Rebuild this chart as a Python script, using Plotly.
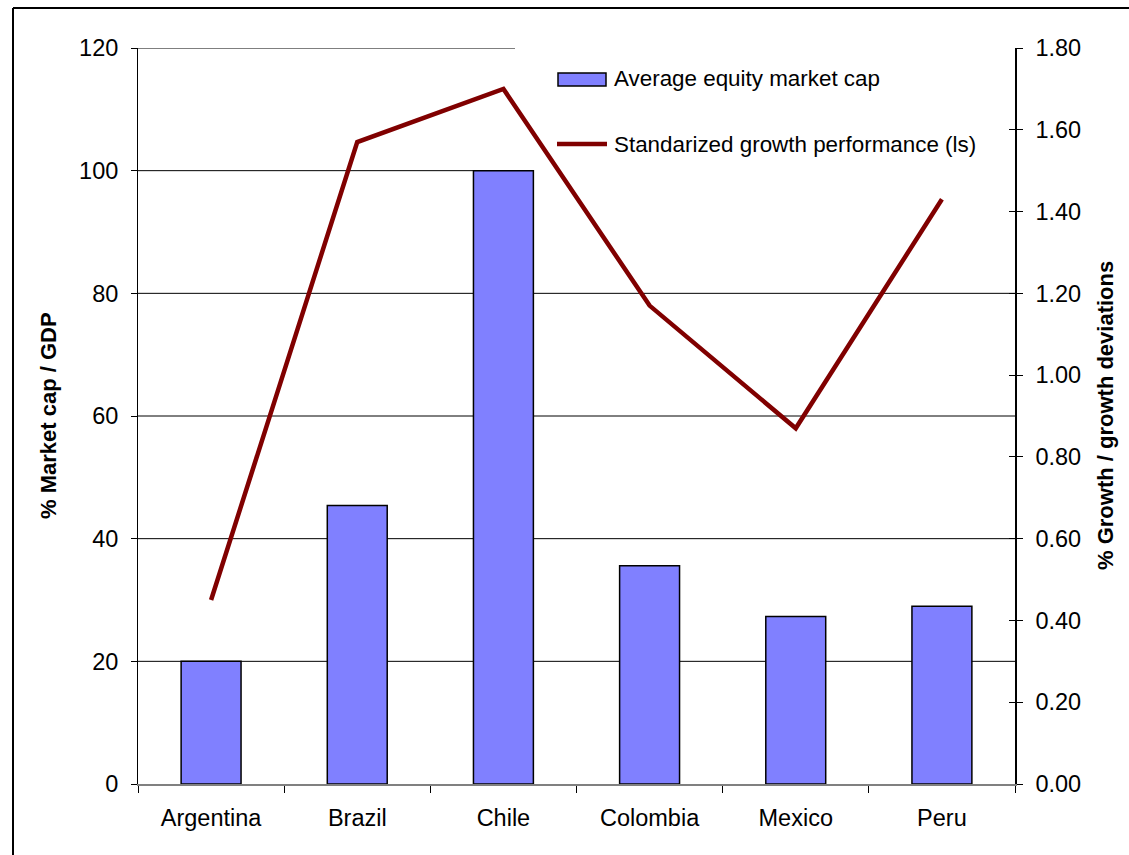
import plotly.graph_objects as go

# ---- data ----
countries = ["Argentina", "Brazil", "Chile", "Colombia", "Mexico", "Peru"]
market_cap = [20.0, 45.4, 100.0, 35.6, 27.3, 29.0]
growth_perf = [0.45, 1.57, 1.70, 1.17, 0.87, 1.43]
left_ticks = [20, 40, 60, 80, 100, 120]
bar_name = "Average equity market cap"
line_name = "Standarized growth performance (ls)"
left_title = "% Market cap / GDP"
right_title = "% Growth / growth deviations"

# ---- layout geometry ----
W, H = 1129, 855
L, R, T, B = 138, 1015, 48, 784
FONT = "Liberation Sans, Arial, sans-serif"
LEGEND_LEFT = 515  # gridlines hidden behind the legend box right of this pixel


def px(x):
    return (x - L) / (R - L)


def py(y):
    return (B - y) / (B - T)


fig = go.Figure()
fig.add_trace(go.Bar(
    x=countries, y=market_cap, name=bar_name, width=0.41,
    marker=dict(color="#8080FF", line=dict(color="#000000", width=1.5)),
    showlegend=False, yaxis="y",
))
fig.add_trace(go.Scatter(
    x=countries, y=growth_perf, name=line_name, mode="lines",
    line=dict(color="#800000", width=4.5),
    showlegend=False, yaxis="y2",
))
fig.add_trace(go.Scatter(x=[], y=[], yaxis="y3", showlegend=False, hoverinfo="skip"))

shapes = []
# gridlines (drawn below the traces; top two are partly hidden by the legend box)
for v in left_ticks:
    x1 = px(LEGEND_LEFT) if v >= 100 else 1
    shapes.append(dict(type="line", xref="paper", yref="y", layer="below",
                       x0=0, x1=x1, y0=v, y1=v,
                       line=dict(color="#000000", width=1)))
shapes += [
    # outer frame (left and top edges)
    dict(type="line", xref="paper", yref="paper",
         x0=px(13), x1=px(13), y0=py(870), y1=py(8),
         line=dict(color="#000000", width=2)),
    dict(type="line", xref="paper", yref="paper",
         x0=px(13), x1=px(1140), y0=py(8), y1=py(8),
         line=dict(color="#000000", width=2)),
    # legend symbols
    dict(type="rect", xref="paper", yref="paper",
         x0=px(558), x1=px(606), y0=py(86), y1=py(73),
         fillcolor="#8080FF", line=dict(color="#000000", width=1.5)),
    dict(type="line", xref="paper", yref="paper",
         x0=px(557), x1=px(607), y0=py(144), y1=py(144),
         line=dict(color="#800000", width=4.5)),
]

annotations = [
    dict(text=bar_name, xref="paper", yref="paper", x=px(612), y=py(78),
         xanchor="left", yanchor="middle", showarrow=False,
         font=dict(family=FONT, size=22.4, color="#000000")),
    dict(text=line_name, xref="paper", yref="paper", x=px(612), y=py(144),
         xanchor="left", yanchor="middle", showarrow=False,
         font=dict(family=FONT, size=22.4, color="#000000")),
    dict(text="<b>" + left_title + "</b>", xref="paper", yref="paper",
         x=px(48), y=py(416), xanchor="center", yanchor="middle",
         textangle=-90, showarrow=False,
         font=dict(family=FONT, size=22, color="#000000")),
    dict(text="<b>" + right_title + "</b>", xref="paper", yref="paper",
         x=px(1105), y=py(416), xanchor="center", yanchor="middle",
         textangle=-90, showarrow=False,
         font=dict(family=FONT, size=22, color="#000000")),
]

tickfont = dict(family=FONT, size=23.5, color="#000000")

fig.update_layout(
    width=W, height=H,
    margin=dict(l=L, r=W - R, t=T, b=H - B, pad=0),
    paper_bgcolor="#FFFFFF", plot_bgcolor="#FFFFFF",
    showlegend=False,
    shapes=shapes,
    annotations=annotations,
    xaxis=dict(
        type="category", range=[-0.5, 5.5],
        showline=True, linecolor="#808080", linewidth=2,
        ticks="outside", ticklen=7, tickcolor="#000000", tickwidth=1,
        tickson="boundaries", ticklabelstandoff=12,
        showgrid=False, tickfont=tickfont,
    ),
    yaxis=dict(
        range=[0, 120], dtick=20, tick0=0,
        showline=True, linecolor="#000000", linewidth=1,
        ticks="outside", ticklen=6, tickcolor="#000000",
        showgrid=False, zeroline=False, tickfont=tickfont,
        ticklabelstandoff=8,
    ),
    yaxis2=dict(
        range=[0, 1.8], dtick=0.2, tick0=0, tickformat=".2f",
        overlaying="y", side="right", anchor="x",
        showline=True, linecolor="#000000", linewidth=1.5,
        ticks="outside", ticklen=6, tickcolor="#000000",
        showgrid=False, zeroline=False, tickfont=tickfont,
        ticklabelstandoff=8,
    ),
    yaxis3=dict(
        range=[0, 1.8], dtick=0.2, tick0=0,
        overlaying="y", side="right", anchor="x",
        showline=False, ticks="inside", ticklen=6, tickcolor="#000000",
        showticklabels=False, showgrid=False, zeroline=False,
    ),
)

fig.write_html("out.html")
